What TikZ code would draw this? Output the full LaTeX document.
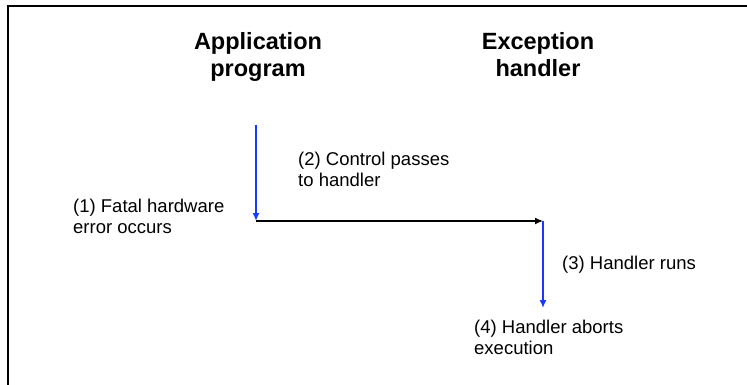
\documentclass[tikz,border=0pt]{standalone}
\usepackage{fontspec}
\setmainfont{Liberation Sans}
\usetikzlibrary{positioning,arrows.meta}
\definecolor{flowblue}{RGB}{20,60,255}
\tikzset{
  title/.style = {font=\bfseries\fontsize{23.5}{27.5}\selectfont, align=center,
                  anchor=base, inner sep=0pt},
  note/.style  = {font=\fontsize{18.5}{20.5}\selectfont, align=left,
                  anchor=base west, inner sep=0pt},
  flow/.style  = {->, draw=flowblue, line width=1.6pt},
  pass/.style  = {->, draw=black, line width=1.3pt}
}

\begin{document}
\begin{tikzpicture}[x=1pt, y=-1pt, >={Latex[length=8pt,width=7pt]}]
\useasboundingbox (0,0) rectangle (747,385);
% outer frame, cut by the page on the right and bottom
\draw[line width=2pt] (7.5,6.5) rectangle (760,400);

% column headings (base = last line)
\node[title] (appProg) at (258,77) {Application\\program};
\node[title] (excHandler) at (538,77) {Exception\\handler};

% control flow
\coordinate (trapTop) at (256,125);
\coordinate (trapPt) at (256,221);
\coordinate (handTop) at (543,221);
\coordinate (handEnd) at (543,308);
\draw[flow] (trapTop) -- (trapPt);
\draw[pass] (trapPt) -- (handTop);
\draw[flow] (handTop) -- (handEnd);

% step labels
\node[note] (fault) at (73,233) {(1) Fatal hardware\\error occurs};
\node[note] (passCtl) at (298,186) {(2) Control passes\\to handler};
\node[note] (runs) at (562,269) {(3) Handler runs};
\node[note] (aborts) at (474,354) {(4) Handler aborts\\execution};
\end{tikzpicture}
\end{document}
